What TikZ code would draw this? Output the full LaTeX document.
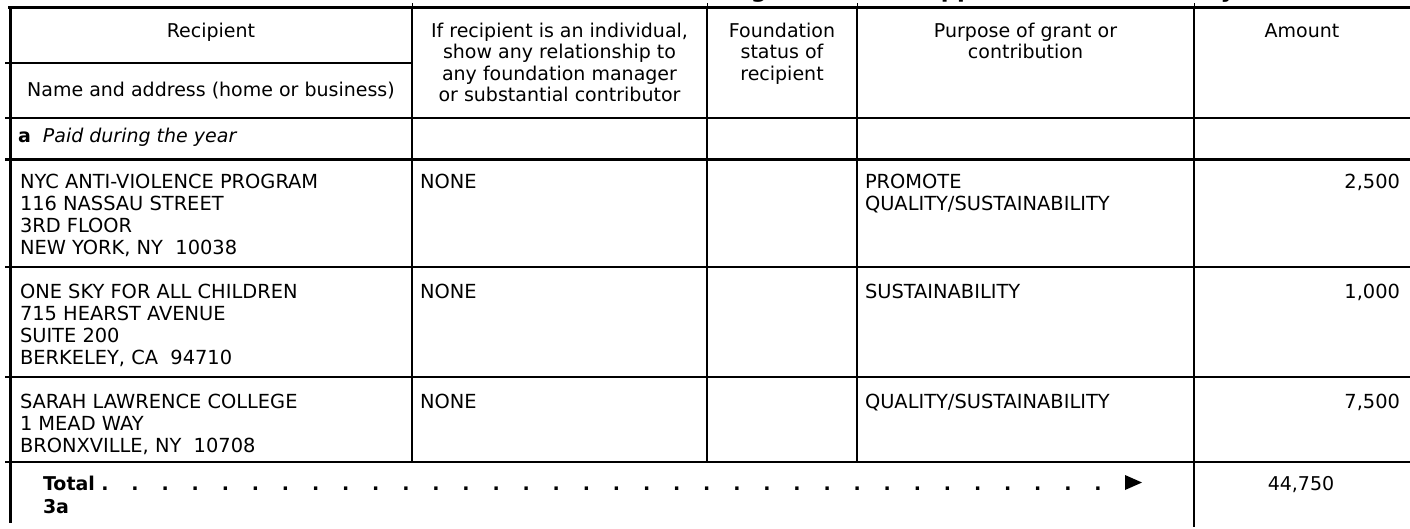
\documentclass[tikz,border=0pt]{standalone}
\usepackage{fontspec}
\setmainfont{DejaVu Sans}
\begin{document}
\begin{tikzpicture}[x=1pt,y=-1pt,
  txt/.style={inner sep=0pt,outer sep=0pt,font=\fontsize{19}{22}\selectfont},
  dtxt/.style={inner sep=0pt,outer sep=0pt,font=\fontsize{19.4}{22}\selectfont},
  hdr/.style={txt,anchor=base},
  cell/.style={dtxt,anchor=base west},
  amt/.style={dtxt,anchor=base east},
  boldtxt/.style={inner sep=0pt,outer sep=0pt,font=\fontsize{19}{22}\selectfont\bfseries},
  titletxt/.style={inner sep=0pt,outer sep=0pt,font=\fontsize{22.6}{26}\selectfont\bfseries},
  gline/.style={line width=#1,line cap=butt},
]
\useasboundingbox[fill=white] (0,0) rectangle (1410,528);

% clipped title (only descenders visible)
\begin{scope}
  \clip (0,0) rectangle (1410,6);
  \node[titletxt,anchor=base east] (title) at (1301,-2.5) {Grants and Contributions Paid During the Year or Approved for Future Payment};
\end{scope}

% ticks above top rule
\foreach \x in {412,707,857,1194} \draw[gline=1pt] (\x,3) -- (\x,7);

% horizontal rules
\draw[gline=3pt] (8,7.5) -- (1410,7.5);
\draw[gline=2pt] (5,63) -- (412,63);
\draw[gline=1.5pt] (5,118) -- (1410,118);
\draw[gline=2.5pt] (5,159.5) -- (1410,159.5);
\draw[gline=2pt] (5,267) -- (1410,267);
\draw[gline=2pt] (5,377) -- (1410,377);
\draw[gline=1.5pt] (5,462) -- (1410,462);

% vertical rules
\draw[gline=3pt] (10,6) -- (10,523);
\draw[gline=2.5pt] (412,7) -- (412,462);
\draw[gline=2pt] (707,7) -- (707,462);
\draw[gline=1.5pt] (857,7) -- (857,462);
\draw[gline=1.5pt] (1194,7) -- (1194,527);

% header
\node[hdr] (h1a) at (211,37) {Recipient};
\node[hdr] (h1b) at (211,96) {Name and address (home or business)};
\node[hdr] (h2a) at (559.5,37) {If recipient is an individual,};
\node[hdr] (h2b) at (559.5,58.5) {show any relationship to};
\node[hdr] (h2c) at (559.5,80) {any foundation manager};
\node[hdr] (h2d) at (559.5,101.5) {or substantial contributor};
\node[hdr] (h3a) at (782,37) {Foundation};
\node[hdr] (h3b) at (782,58.5) {status of};
\node[hdr] (h3c) at (782,80) {recipient};
\node[hdr] (h4a) at (1025.5,37) {Purpose of grant or};
\node[hdr] (h4b) at (1025.5,58.5) {contribution};
\node[hdr] (h5a) at (1302,37) {Amount};

\node[txt,anchor=base west] (paid) at (18,142) {\textbf{a}~~\textit{Paid during the year}};

% row 1
\foreach \t [count=\i from 0] in {{NYC ANTI-VIOLENCE PROGRAM},{116 NASSAU STREET},{3RD FLOOR},{NEW YORK, NY~~10038}}
  \node[cell] (ra\i) at (20,188+22*\i) {\t};
\node[cell] (ra-rel) at (420,188) {NONE};
\node[cell] (ra-p1) at (865,188) {PROMOTE};
\node[cell] (ra-p2) at (865,210) {QUALITY/SUSTAINABILITY};
\node[amt] (ra-amt) at (1400,188) {2,500};

% row 2
\foreach \t [count=\i from 0] in {{ONE SKY FOR ALL CHILDREN},{715 HEARST AVENUE},{SUITE 200},{BERKELEY, CA~~94710}}
  \node[cell] (rb\i) at (20,298+22*\i) {\t};
\node[cell] (rb-rel) at (420,298) {NONE};
\node[cell] (rb-p1) at (865,298) {SUSTAINABILITY};
\node[amt] (rb-amt) at (1400,298) {1,000};

% row 3
\foreach \t [count=\i from 0] in {{SARAH LAWRENCE COLLEGE},{1 MEAD WAY},{BRONXVILLE, NY~~10708}}
  \node[cell] (rc\i) at (20,408+22*\i) {\t};
\node[cell] (rc-rel) at (420,408) {NONE};
\node[cell] (rc-p1) at (865,408) {QUALITY/SUSTAINABILITY};
\node[amt] (rc-amt) at (1400,408) {7,500};

% total
\node[boldtxt,anchor=base west] (tot) at (43,490) {Total};
\node[boldtxt,anchor=base west] (tot3a) at (43,513) {3a};
\foreach \k in {0,...,33}
  \node[boldtxt,anchor=base] (dot\k) at ({105+30.09*\k},490) {.};
\fill (1125,475) -- (1142,482.5) -- (1125,490) -- cycle;
\node[hdr] (totamt) at (1301,490) {44,750};
\end{tikzpicture}
\end{document}
